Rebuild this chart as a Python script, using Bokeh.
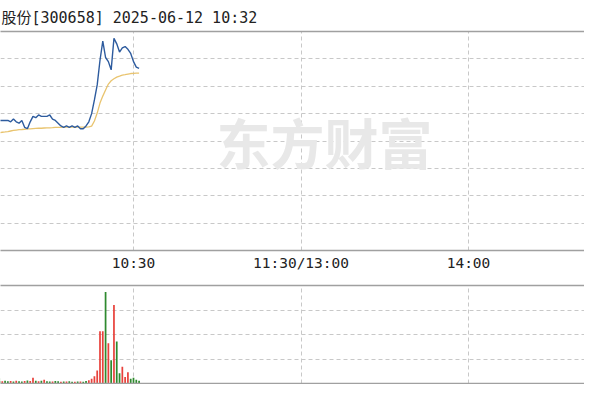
from bokeh.plotting import figure
from bokeh.layouts import column
from bokeh.models import LinearAxis, FixedTicker, Range1d, ColumnDataSource
from bokeh.core.properties import value
from bokeh.embed import file_html
from bokeh.resources import INLINE

# ---- data (minutes after 09:30, lunch break collapsed) ----
minutes = list(range(11, 63))
price = [10.15, 10.15, 10.15,
         10.15, 10.15, 10.14, 10.16, 10.14, 10.13, 10.15, 10.10, 10.09, 10.14,
         10.18, 10.17, 10.19, 10.18, 10.18, 10.18, 10.19, 10.16, 10.15, 10.13,
         10.11, 10.10, 10.11, 10.10, 10.11, 10.10, 10.11, 10.09, 10.09, 10.11,
         10.14, 10.20, 10.30, 10.41, 10.59, 10.73, 10.61, 10.58, 10.52, 10.75,
         10.71, 10.65, 10.68, 10.69, 10.67, 10.64, 10.58, 10.54, 10.53]
avg_price = [10.058, 10.061, 10.064,
             10.066, 10.069, 10.073, 10.077, 10.080, 10.083, 10.084, 10.086, 10.088, 10.089,
             10.091, 10.092, 10.093, 10.093, 10.095, 10.096, 10.096, 10.097, 10.099, 10.100,
             10.100, 10.101, 10.102, 10.102, 10.102, 10.102, 10.102, 10.102, 10.102, 10.102,
             10.103, 10.109, 10.146, 10.204, 10.277, 10.328, 10.372, 10.416, 10.440, 10.455,
             10.467, 10.474, 10.482, 10.485, 10.489, 10.493, 10.494, 10.496, 10.496]
volume = [200, 420, 190,
          230, 180, 200, 160, 220, 190, 170, 210, 250, 200, 460, 230, 180, 220, 300, 190,
          170, 160, 200, 180, 150, 170, 160, 190, 150, 140, 160, 170, 150, 200, 260,
          380, 600, 1070, 4270, 4270, 7470, 3280, 1900, 6400, 3430, 840, 1370, 530, 910,
          380, 460, 300, 230]
up_flag = [0, 0, 1,
           0, 0, 1, 0, 1, 0, 0, 1, 0, 1, 1, 0, 1, 0, 1, 0, 0, 1, 0, 0, 1, 0, 1, 0, 0, 1,
           0, 1, 0, 0, 1,
           1, 1, 1, 1, 1, 0, 1, 0, 1, 0, 0, 1, 1, 1, 0, 0, 0, 0]
tick_minutes = [60, 120, 180]
tick_labels = ["10:30", "11:30/13:00", "14:00"]
title_text = "股份[300658] 2025-06-12 10:32"
pre_close = 10.00
price_step = 0.20
vol_step = 2000

# ---- styles ----
X_START, X_END = 12.36, 221.55
GRID = "#c8c8c8"
BORDER = "#a0a0a0"
RED = "#e8423c"
GREEN = "#2f8a2f"
MONO = "DejaVu Sans Mono, Noto Sans CJK SC"

colors = [RED if f else GREEN for f in up_flag]
src = ColumnDataSource(dict(m=minutes, price=price, avg=avg_price, vol=volume, color=colors))

p_lo, p_hi = pre_close - 4 * price_step, pre_close + 4 * price_step


def line_axis(ticks=None, labels=None):
    ax = LinearAxis(ticker=FixedTicker(ticks=ticks or []))
    if labels:
        ax.major_label_overrides = {m: l for m, l in zip(ticks, labels)}
    ax.axis_line_color = BORDER
    ax.axis_line_width = 1.5
    ax.major_tick_out = 0
    ax.major_tick_in = 0
    ax.minor_tick_out = 0
    ax.minor_tick_in = 0
    if not labels:
        ax.major_label_standoff = 0
        ax.major_label_text_font_size = "0px"
    return ax


# ---- price panel ----
p1 = figure(width=584, height=284, output_backend="svg", toolbar_location=None,
            x_range=Range1d(X_START, X_END), y_range=Range1d(p_lo, p_hi),
            x_axis_location=None, y_axis_location=None,
            min_border_left=0, min_border_right=0, min_border_top=31, min_border_bottom=34)
p1.outline_line_color = None
p1.title.text = title_text
p1.title.text_font = MONO
p1.title.text_font_size = "15px"
p1.title.text_font_style = "normal"
p1.title.text_color = "#222222"
p1.title.align = "left"
p1.title.offset = 1
p1.title.standoff = 9

p1.xgrid.ticker = FixedTicker(ticks=tick_minutes)
p1.ygrid.ticker = FixedTicker(ticks=[p_lo + i * price_step for i in range(1, 8)])
for g in (p1.xgrid[0], p1.ygrid[0]):
    g.grid_line_color = GRID
    g.grid_line_dash = "4 3"
    g.grid_line_width = 1

# watermark
p1.text(x=[128.4], y=[pre_close - 0.005], text=["东方财富"], text_font=value("Noto Sans CJK SC"),
        text_font_size="54px", text_font_style="bold", text_color="#e8e8e8",
        text_align="center", text_baseline="middle")

p1.line("m", "avg", source=src, line_color="#e9c46f", line_width=1.3)
p1.line("m", "price", source=src, line_color="#2d5b9e", line_width=1.4)

xa = line_axis(tick_minutes, tick_labels)
xa.major_label_standoff = 4
xa.major_label_text_font = MONO
xa.major_label_text_font_size = "14.5px"
xa.major_label_text_color = "#222222"
p1.add_layout(xa, "below")
p1.add_layout(line_axis(), "above")

# ---- volume panel ----
p2 = figure(width=584, height=100, output_backend="svg", toolbar_location=None,
            x_range=p1.x_range, y_range=Range1d(0, 4 * vol_step),
            x_axis_location=None, y_axis_location=None,
            min_border_left=0, min_border_right=0, min_border_top=1, min_border_bottom=1)
p2.outline_line_color = None
p2.xgrid.ticker = FixedTicker(ticks=tick_minutes)
p2.ygrid.ticker = FixedTicker(ticks=[vol_step * i for i in range(1, 4)])
for g in (p2.xgrid[0], p2.ygrid[0]):
    g.grid_line_color = GRID
    g.grid_line_dash = "4 3"
    g.grid_line_width = 1

p2.vbar(x="m", top="vol", bottom=0, width=0.62, source=src, fill_color="color",
        line_color=None)

p2.add_layout(line_axis(), "above")
p2.add_layout(line_axis(), "below")

layout = column(p1, p2, spacing=0)
open("out.html", "w").write(file_html(layout, INLINE))
